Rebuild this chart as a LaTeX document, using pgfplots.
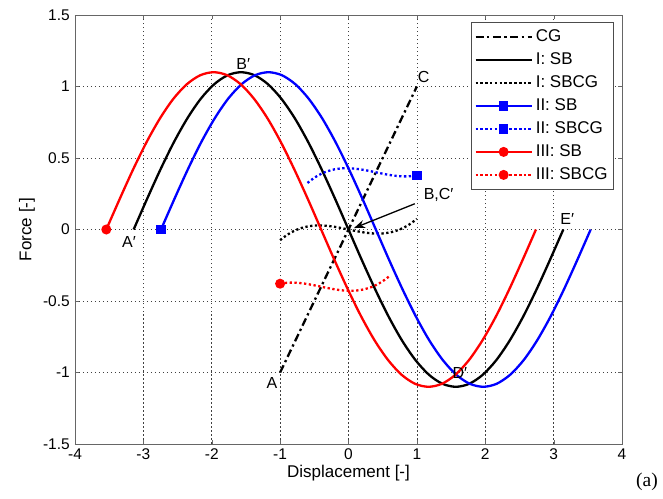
\documentclass[border=0pt]{standalone}
\usepackage{fontspec}
\setmainfont{Liberation Sans}
\newfontfamily\serifa{Liberation Serif}
\usepackage{pgfplots}
\usepackage{pgfplotstable}
\pgfplotsset{compat=1.18}
\usetikzlibrary{arrows.meta}

% SB curves: x (I), xb (II, shifted right), xr (III, shifted left), force y
\pgfplotstableread{
x      xb     xr     y
-3.142 -2.742 -3.542 0
-2.945 -2.545 -3.345 0.2146
-2.749 -2.349 -3.149 0.4209
-2.553 -2.153 -2.953 0.6111
-2.356 -1.956 -2.756 0.7778
-2.160 -1.760 -2.560 0.9146
-1.963 -1.563 -2.363 1.0163
-1.767 -1.367 -2.167 1.0789
-1.571 -1.171 -1.971 1.1
-1.374 -0.974 -1.774 1.0789
-1.178 -0.778 -1.578 1.0163
-0.982 -0.582 -1.382 0.9146
-0.785 -0.385 -1.185 0.7778
-0.589 -0.189 -0.989 0.6111
-0.393  0.007 -0.793 0.4209
-0.196  0.204 -0.596 0.2146
 0.000  0.400 -0.400 0
 0.196  0.596 -0.204 -0.2146
 0.393  0.793 -0.007 -0.4209
 0.589  0.989  0.189 -0.6111
 0.785  1.185  0.385 -0.7778
 0.982  1.382  0.582 -0.9146
 1.178  1.578  0.778 -1.0163
 1.374  1.774  0.974 -1.0789
 1.571  1.971  1.171 -1.1
 1.767  2.167  1.367 -1.0789
 1.963  2.363  1.563 -1.0163
 2.160  2.560  1.760 -0.9146
 2.356  2.756  1.956 -0.7778
 2.553  2.953  2.153 -0.6111
 2.749  3.149  2.349 -0.4209
 2.945  3.345  2.545 -0.2146
 3.142  3.542  2.742 0
}\sbdata

\pgfplotstableread{
x    y
-1.0 -0.0744
-0.9 -0.0383
-0.8 -0.0109
-0.7  0.0086
-0.6  0.0211
-0.5  0.0274
-0.4  0.0284
-0.3  0.0251
-0.2  0.0185
-0.1  0.0098
 0.0  0
 0.1 -0.0098
 0.2 -0.0185
 0.3 -0.0251
 0.4 -0.0284
 0.5 -0.0274
 0.6 -0.0211
 0.7 -0.0086
 0.8  0.0109
 0.9  0.0383
 1.0  0.0744
}\sbcgone

\pgfplotstableread{
x    y
-0.6 0.3256
-0.5 0.3617
-0.4 0.3891
-0.3 0.4086
-0.2 0.4211
-0.1 0.4274
 0.0 0.4284
 0.1 0.4251
 0.2 0.4185
 0.3 0.4098
 0.4 0.4
 0.5 0.3902
 0.6 0.3815
 0.7 0.3749
 0.8 0.3716
 0.9 0.3726
 1.0 0.3789
}\sbcgtwo

\pgfplotstableread{
x    y
-1.0 -0.3789
-0.9 -0.3726
-0.8 -0.3716
-0.7 -0.3749
-0.6 -0.3815
-0.5 -0.3902
-0.4 -0.4
-0.3 -0.4098
-0.2 -0.4185
-0.1 -0.4251
 0.0 -0.4284
 0.1 -0.4274
 0.2 -0.4211
 0.3 -0.4086
 0.4 -0.3891
 0.5 -0.3617
 0.6 -0.3256
}\sbcgthree

\begin{document}
\begin{tikzpicture}
\begin{axis}[
  width=547pt, height=429pt, scale only axis,
  xmin=-4, xmax=4, ymin=-1.5, ymax=1.5,
  xtick={-4,-3,...,4}, ytick={-1.5,-1,...,1.5},
  grid=major,
  grid style={black!75, line width=0.6pt, dash pattern=on 1.5pt off 2.5pt},
  axis line style={black!60, line width=0.8pt},
  tick style={black!60}, tick align=inside, major tick length=4pt,
  /pgf/number format/assume math mode=true,
  ticklabel style={font=\fontsize{15.5}{18}\selectfont, inner sep=0pt},
  xticklabel style={yshift=-4.5pt},
  yticklabel style={xshift=-5pt},
  xlabel={Displacement [-]}, ylabel={Force [-]},
  label style={font=\fontsize{17}{20}\selectfont},
  xlabel style={at={(axis description cs:0.5,-0.0676)}, anchor=center},
  ylabel style={at={(axis description cs:-0.0878,0.5)}, anchor=center},
  clip=false,
  every axis plot/.append style={line width=2.3pt},
  legend cell align=left,
  legend style={at={(axis description cs:1,1)}, xshift=-8pt, yshift=-7pt,
    anchor=north east, draw=black!70, fill=white, line width=0.8pt,
    font=\fontsize{17}{20}\selectfont, inner sep=3pt, row sep=0pt,
    nodes={text height=13pt, text depth=4pt, inner sep=3pt}},
  legend image code/.code={\draw[#1, mark indices={2}] plot coordinates {(0pt,0pt) (28pt,0pt) (56pt,0pt)};},
]
\addplot[black, dash pattern=on 8pt off 3.5pt on 2.3pt off 3.5pt]
  coordinates {(-1,-1) (1,1)};
\addlegendentry{CG}
\addplot[black, smooth] table[x=x, y=y] {\sbdata};
\addlegendentry{I: SB}
\addplot[black, smooth, dash pattern=on 2.3pt off 2.5pt] table {\sbcgone};
\addlegendentry{I: SBCG}
\addplot[blue, smooth, mark=square*, mark size=3.6pt, mark indices={1}]
  table[x=xb, y=y] {\sbdata};
\addlegendentry{II: SB}
\addplot[blue, smooth, dash pattern=on 2.3pt off 2.5pt, mark=square*, mark size=3.6pt,
  mark indices={17}, mark options={solid}] table {\sbcgtwo};
\addlegendentry{II: SBCG}
\addplot[red, smooth, mark=*, mark size=3.8pt, mark indices={1}]
  table[x=xr, y=y] {\sbdata};
\addlegendentry{III: SB}
\addplot[red, smooth, dash pattern=on 2.3pt off 2.5pt, mark=*, mark size=3.8pt,
  mark indices={1}, mark options={solid}] table {\sbcgthree};
\addlegendentry{III: SBCG}

\draw[black, line width=1.3pt, -{Stealth[length=11pt, width=8pt]}]
  (axis cs:0.97,0.18) -- (axis cs:0.08,0.01);
\begin{scope}[font=\fontsize{16}{19}\selectfont]
\node at (axis cs:-3.21,-0.09) {A′};
\node at (axis cs:-1.54,1.16) {B′};
\node at (axis cs:1.10,1.07) {C};
\node at (axis cs:-1.12,-1.07) {A};
\node[anchor=west] at (axis cs:1.05,0.24) {B,C′};
\node at (axis cs:1.63,-1.0) {D′};
\node at (axis cs:3.2,0.07) {E′};
\end{scope}
\node[font=\serifa\fontsize{19.5}{22}\selectfont] at (rel axis cs:1.0457,-0.0886) {(a)};
\path (rel axis cs:-0.1371,-0.1259) rectangle (rel axis cs:1.0750,1.035);
\end{axis}
\end{tikzpicture}
\end{document}
